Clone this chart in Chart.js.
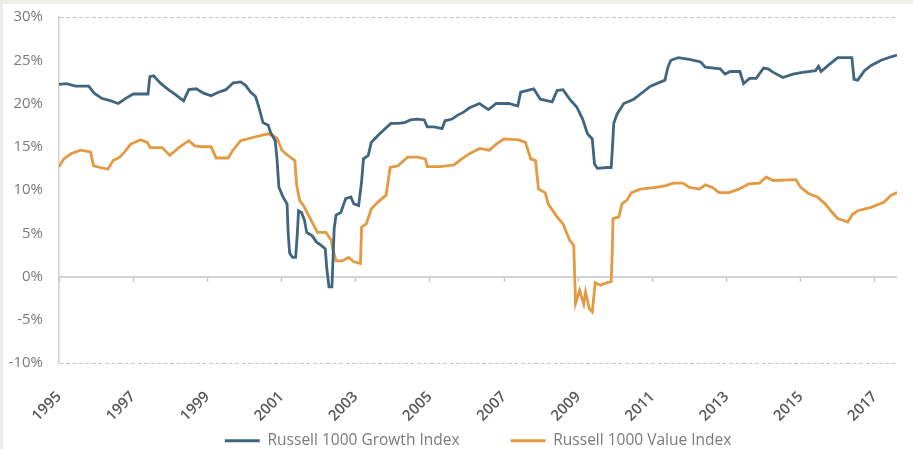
<!DOCTYPE html>
<html>
<head>
<meta charset="utf-8">
<script src="https://cdn.jsdelivr.net/npm/chart.js@4.4.1/dist/chart.umd.min.js"></script>
<style>
  html, body { margin: 0; padding: 0; background: #efede8; }
  #panel { position: absolute; left: 3px; top: 4px; width: 910px; height: 445px; background: #ffffff; }
  canvas { display: block; }
</style>
</head>
<body>
<div id="panel"><canvas id="chart" width="910" height="445"></canvas></div>
<script>
// Rolling figures, sampled at fractional years
const growthYears = [
  1995.00, 1995.20, 1995.45, 1995.80, 1995.95, 1996.15, 1996.40, 1996.60, 1996.80, 1997.00,
  1997.40, 1997.45, 1997.55, 1997.75, 1997.95, 1998.15, 1998.36, 1998.50, 1998.70, 1998.90,
  1999.10, 1999.30, 1999.50, 1999.70, 1999.90, 2000.03, 2000.17, 2000.30, 2000.40, 2000.50,
  2000.64, 2000.70, 2000.83, 2000.88, 2000.93, 2001.04, 2001.15, 2001.18, 2001.22, 2001.30,
  2001.38, 2001.42, 2001.46, 2001.54, 2001.62, 2001.68, 2001.83, 2001.94, 2002.07, 2002.18,
  2002.22, 2002.28, 2002.36, 2002.42, 2002.47, 2002.60, 2002.73, 2002.87, 2002.95, 2003.08,
  2003.16, 2003.21, 2003.34, 2003.42, 2003.60, 2003.80, 2003.95, 2004.14, 2004.32, 2004.48,
  2004.67, 2004.85, 2004.93, 2005.12, 2005.33, 2005.41, 2005.60, 2005.73, 2005.91, 2006.07,
  2006.34, 2006.58, 2006.79, 2007.13, 2007.37, 2007.45, 2007.80, 2007.98, 2008.30, 2008.43,
  2008.59, 2008.77, 2008.96, 2009.12, 2009.25, 2009.38, 2009.44, 2009.52, 2009.78, 2009.89,
  2009.92, 2009.96, 2010.05, 2010.23, 2010.50, 2010.68, 2010.95, 2011.34, 2011.42, 2011.50,
  2011.70, 2012.00, 2012.30, 2012.43, 2012.83, 2012.96, 2013.10, 2013.36, 2013.46, 2013.62,
  2013.80, 2014.00, 2014.12, 2014.26, 2014.52, 2014.79, 2015.05, 2015.40, 2015.48, 2015.55,
  2015.74, 2016.00, 2016.38, 2016.44, 2016.54, 2016.72, 2016.90, 2017.17, 2017.44, 2017.60
];
const growthValues = [
  22.2, 22.3, 22.0, 22.0, 21.2, 20.6, 20.3, 20.0, 20.6, 21.1,
  21.1, 23.1, 23.2, 22.3, 21.6, 21.0, 20.3, 21.6, 21.7, 21.2,
  20.9, 21.3, 21.6, 22.4, 22.5, 22.1, 21.3, 20.8, 19.4, 17.8,
  17.5, 16.7, 15.7, 13.5, 10.3, 9.2, 8.4, 5.0, 2.7, 2.2,
  2.2, 4.5, 7.6, 7.4, 6.5, 5.1, 4.7, 4.0, 3.6, 3.2,
  1.0, -1.2, -1.2, 5.5, 7.1, 7.4, 9.0, 9.2, 8.4, 8.2,
  11.0, 13.6, 14.0, 15.5, 16.3, 17.1, 17.7, 17.7, 17.8, 18.1,
  18.2, 18.1, 17.3, 17.3, 17.1, 18.0, 18.2, 18.6, 19.0, 19.5,
  20.0, 19.3, 20.0, 20.0, 19.7, 21.3, 21.7, 20.5, 20.2, 21.5,
  21.6, 20.5, 19.6, 18.2, 16.5, 15.9, 13.0, 12.5, 12.6, 12.6,
  14.6, 17.7, 18.8, 20.0, 20.5, 21.1, 22.0, 22.7, 24.2, 25.0,
  25.3, 25.1, 24.8, 24.2, 24.0, 23.4, 23.7, 23.7, 22.3, 22.9,
  22.9, 24.1, 24.0, 23.6, 23.0, 23.4, 23.6, 23.8, 24.3, 23.7,
  24.4, 25.3, 25.3, 22.8, 22.7, 23.8, 24.4, 25.0, 25.4, 25.6
];

const valueYears = [
  1995.00, 1995.13, 1995.32, 1995.58, 1995.85, 1995.93, 1996.11, 1996.32, 1996.46, 1996.64,
  1996.77, 1996.93, 1997.20, 1997.38, 1997.46, 1997.78, 1997.99, 1998.23, 1998.50, 1998.66,
  1998.84, 1999.10, 1999.24, 1999.56, 1999.69, 1999.90, 2000.25, 2000.64, 2000.88, 2001.01,
  2001.17, 2001.36, 2001.41, 2001.49, 2001.62, 2001.75, 2001.97, 2002.20, 2002.34, 2002.38,
  2002.47, 2002.63, 2002.81, 2002.95, 2003.13, 2003.16, 2003.29, 2003.42, 2003.60, 2003.82,
  2003.93, 2004.14, 2004.40, 2004.67, 2004.88, 2004.93, 2005.28, 2005.65, 2005.86, 2006.07,
  2006.34, 2006.60, 2006.79, 2007.00, 2007.40, 2007.58, 2007.72, 2007.85, 2007.93, 2008.11,
  2008.19, 2008.43, 2008.59, 2008.77, 2008.88, 2008.93, 2009.04, 2009.15, 2009.20, 2009.30,
  2009.38, 2009.46, 2009.60, 2009.78, 2009.89, 2009.92, 2009.94, 2010.10, 2010.18, 2010.31,
  2010.44, 2010.68, 2011.10, 2011.37, 2011.56, 2011.82, 2012.00, 2012.27, 2012.43, 2012.62,
  2012.80, 2013.07, 2013.33, 2013.60, 2013.89, 2014.07, 2014.25, 2014.87, 2015.00, 2015.21,
  2015.45, 2015.66, 2015.85, 2016.00, 2016.27, 2016.40, 2016.54, 2016.90, 2017.25, 2017.44,
  2017.60
];
const valueValues = [
  12.7, 13.6, 14.2, 14.6, 14.4, 12.8, 12.6, 12.4, 13.4, 13.8,
  14.4, 15.3, 15.8, 15.5, 14.9, 14.9, 14.0, 14.9, 15.7, 15.1,
  15.0, 15.0, 13.7, 13.7, 14.6, 15.7, 16.1, 16.5, 16.0, 14.6,
  14.0, 13.4, 10.5, 8.8, 8.0, 6.9, 5.1, 5.1, 4.2, 3.2,
  1.8, 1.8, 2.2, 1.7, 1.5, 5.7, 6.1, 7.8, 8.6, 9.4,
  12.6, 12.8, 13.8, 13.8, 13.6, 12.7, 12.7, 12.9, 13.6, 14.2,
  14.8, 14.6, 15.3, 15.9, 15.8, 15.5, 13.6, 13.4, 10.1, 9.7,
  8.4, 6.9, 6.1, 4.2, 3.6, -3.1, -1.6, -3.2, -1.8, -3.7,
  -4.1, -0.7, -1.0, -0.7, -0.6, 3.0, 6.7, 6.9, 8.4, 8.8,
  9.7, 10.1, 10.3, 10.5, 10.8, 10.8, 10.3, 10.1, 10.6, 10.3,
  9.7, 9.7, 10.1, 10.7, 10.8, 11.5, 11.1, 11.2, 10.3, 9.6,
  9.2, 8.4, 7.4, 6.7, 6.3, 7.2, 7.6, 8.0, 8.6, 9.4,
  9.7
];

const seriesNames = ['Russell 1000 Growth Index', 'Russell 1000 Value Index'];
const yearTicks = [1995, 1997, 1999, 2001, 2003, 2005, 2007, 2009, 2011, 2013, 2015, 2017];
const percentTicks = [-10, -5, 0, 5, 10, 15, 20, 25, 30];

const xMin = 1995, xMax = 2017.6;
const FONT = "'Open Sans', 'DejaVu Sans', sans-serif";
const BLUE = '#40667f';
const ORANGE = '#e39a42';
const CLEAR = 'rgba(0,0,0,0)';

const toPoints = (xs, ys) => xs.map((x, i) => ({ x: x, y: ys[i] }));
const setYearTicks = scale => { scale.ticks = yearTicks.map(v => ({ value: v })); };

new Chart(document.getElementById('chart'), {
  type: 'line',
  data: {
    datasets: [
      {
        label: seriesNames[0],
        data: toPoints(growthYears, growthValues),
        borderColor: BLUE,
        backgroundColor: BLUE,
        borderWidth: 2.8,
        pointRadius: 0,
        tension: 0
      },
      {
        label: seriesNames[1],
        data: toPoints(valueYears, valueValues),
        borderColor: ORANGE,
        backgroundColor: ORANGE,
        borderWidth: 2.8,
        pointRadius: 0,
        tension: 0
      }
    ]
  },
  options: {
    responsive: false,
    animation: false,
    layout: { padding: { left: 0, right: 0, top: 13, bottom: -9.5 } },
    plugins: {
      tooltip: { enabled: false },
      legend: {
        position: 'bottom',
        fullSize: false,
        labels: {
          boxWidth: 35,
          boxHeight: 3,
          padding: 51,
          color: '#7a7a7a',
          font: { family: FONT, size: 15.5 },
          generateLabels: chart => Chart.defaults.plugins.legend.labels.generateLabels(chart)
            .map(item => Object.assign(item, { lineWidth: 0 }))
        }
      }
    },
    scales: {
      // data axis; reserves the band between the plot and the legend
      x: {
        type: 'linear',
        min: xMin,
        max: xMax,
        afterBuildTicks: setYearTicks,
        afterFit: scale => { scale.height = 19; },
        grid: { display: false, drawTicks: false },
        border: { display: false },
        ticks: { display: false }
      },
      // year labels under the -10% line
      xYears: {
        type: 'linear',
        min: xMin,
        max: xMax,
        position: { y: -10 },
        afterBuildTicks: setYearTicks,
        grid: { display: false, drawTicks: false },
        border: { display: false },
        ticks: {
          autoSkip: false,
          minRotation: 45,
          maxRotation: 45,
          padding: 25,
          color: '#595959',
          font: { family: FONT, size: 15, weight: '600' },
          callback: v => String(v)
        }
      },
      // tick marks along the zero line
      xZero: {
        type: 'linear',
        min: xMin,
        max: xMax,
        position: { y: 0 },
        afterBuildTicks: setYearTicks,
        grid: { drawOnChartArea: false, drawTicks: true, tickLength: 5, tickColor: '#c9c9c9', tickWidth: 1.5 },
        border: { display: false },
        ticks: { display: false }
      },
      y: {
        min: -10,
        max: 30,
        afterBuildTicks: scale => { scale.ticks = percentTicks.map(v => ({ value: v })); },
        afterFit: scale => { scale.width = 56; },
        grid: {
          drawTicks: true,
          tickLength: 16,
          tickColor: CLEAR,
          color: ctx => {
            const v = ctx.tick ? ctx.tick.value : null;
            if (v === 0) return '#d2d2d2';
            if (v === 30 || v === -10) return '#c4c4c4';
            return CLEAR;
          },
          lineWidth: ctx => (ctx.tick && ctx.tick.value === 0) ? 2 : 1
        },
        border: {
          display: true,
          color: '#cfcfcf',
          width: 1.5,
          dash: ctx => (ctx.tick && ctx.tick.value !== 0) ? [4, 2.5] : []
        },
        ticks: {
          padding: 0,
          color: '#7a7a7a',
          font: { family: FONT, size: 15 },
          callback: v => v + '%'
        }
      }
    }
  }
});
</script>
</body>
</html>
